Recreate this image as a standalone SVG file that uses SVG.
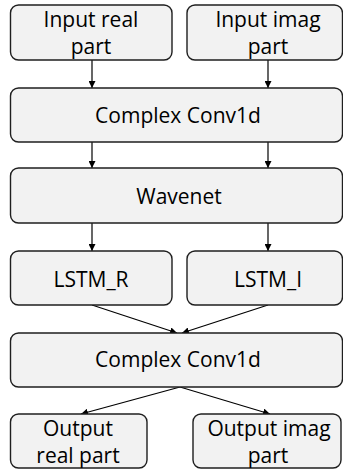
<svg xmlns="http://www.w3.org/2000/svg" width="343" height="470" viewBox="0 0 343 470">
  <defs>
    <marker id="arrow" viewBox="0 0 10 10" refX="10" refY="5" markerWidth="7" markerHeight="7" markerUnits="userSpaceOnUse" orient="auto">
      <path d="M0,0 L10,5 L0,10 z" fill="#000"/>
    </marker>
    <style>
      .box { fill: #f2f2f2; stroke: #1f1f1f; stroke-width: 1.4; }
      .lbl { font-family: "Open Sans", "Liberation Sans", sans-serif; font-size: 21px; fill: #000; text-anchor: middle; }
      .edge { stroke: #000; stroke-width: 1.2; fill: none; marker-end: url(#arrow); }
    </style>
  </defs>
  <rect width="343" height="470" fill="#fff"/>

  <g id="edges">
    <line class="edge" x1="92" y1="60" x2="92" y2="88"/>
    <line class="edge" x1="268" y1="60" x2="268" y2="88"/>
    <line class="edge" x1="92" y1="142" x2="92" y2="168"/>
    <line class="edge" x1="268" y1="142" x2="268" y2="168"/>
    <line class="edge" x1="92" y1="223" x2="92" y2="251"/>
    <line class="edge" x1="268" y1="223" x2="268" y2="251"/>
    <line class="edge" x1="92" y1="305" x2="177" y2="333"/>
    <line class="edge" x1="268" y1="305" x2="182" y2="333"/>
    <line class="edge" x1="180" y1="387" x2="81" y2="414"/>
    <line class="edge" x1="180" y1="387" x2="270" y2="414"/>
  </g>

  <g id="input-real">
    <rect class="box" x="10.5" y="5" width="161.5" height="55" rx="8"/>
    <text class="lbl" x="91" y="27">Input real</text>
    <text class="lbl" x="91" y="54">part</text>
  </g>
  <g id="input-imag">
    <rect class="box" x="187" y="5" width="155.5" height="55" rx="8"/>
    <text class="lbl" x="268" y="27">Input imag</text>
    <text class="lbl" x="268" y="54">part</text>
  </g>
  <g id="conv-in">
    <rect class="box" x="10.5" y="88" width="332" height="54" rx="8"/>
    <text class="lbl" x="178" y="123">Complex Conv1d</text>
  </g>
  <g id="wavenet">
    <rect class="box" x="10.5" y="168" width="332" height="55" rx="8"/>
    <text class="lbl" x="179" y="204">Wavenet</text>
  </g>
  <g id="lstm-r">
    <rect class="box" x="10.5" y="251" width="161.5" height="54" rx="8"/>
    <text class="lbl" x="91" y="287">LSTM_R</text>
  </g>
  <g id="lstm-i">
    <rect class="box" x="187" y="251" width="155.5" height="54" rx="8"/>
    <text class="lbl" x="268" y="287">LSTM_I</text>
  </g>
  <g id="conv-out">
    <rect class="box" x="10.5" y="333" width="332" height="54" rx="8"/>
    <text class="lbl" x="178" y="367">Complex Conv1d</text>
  </g>
  <g id="output-real">
    <rect class="box" x="10.5" y="414" width="136.5" height="54" rx="8"/>
    <text class="lbl" x="78" y="436">Output</text>
    <text class="lbl" x="78" y="463">real part</text>
  </g>
  <g id="output-imag">
    <rect class="box" x="193" y="414" width="148" height="54" rx="8"/>
    <text class="lbl" x="269" y="436">Output imag</text>
    <text class="lbl" x="268" y="463">part</text>
  </g>
</svg>
